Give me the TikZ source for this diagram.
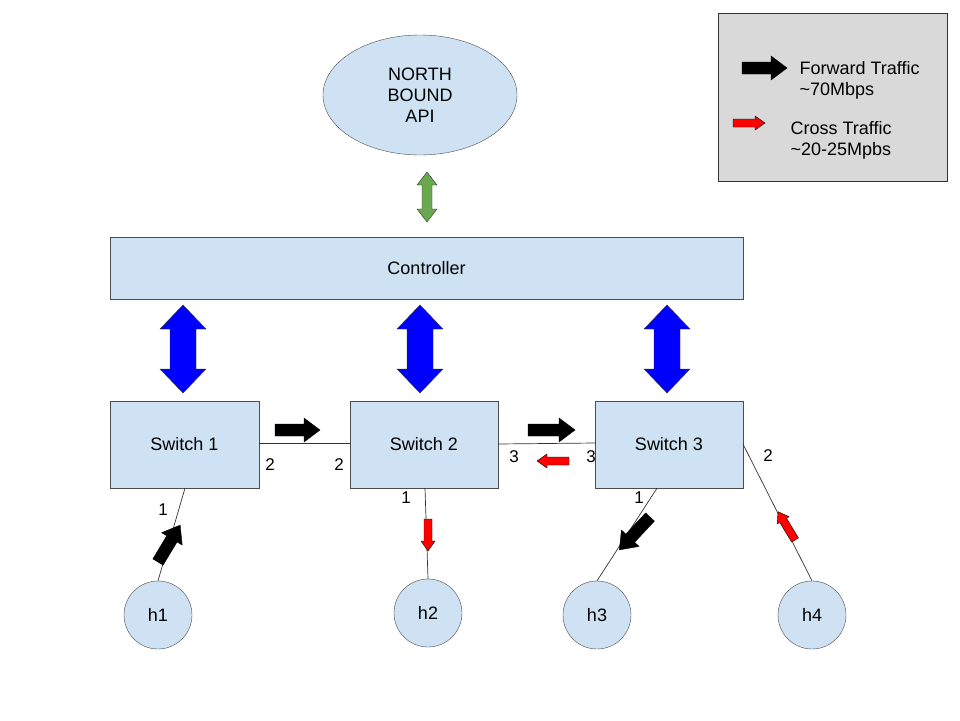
\documentclass[tikz,border=0pt]{standalone}
\usepackage{fontspec}
\setmainfont{Liberation Sans}
\usetikzlibrary{shapes.geometric}
\definecolor{boxblue}{HTML}{CFE2F3}
\definecolor{legendgray}{HTML}{D9D9D9}
\definecolor{apigreen}{HTML}{6AA84F}
\tikzset{
  box/.style={draw=black!70,fill=boxblue,inner sep=0pt},
  host/.style={circle,draw=black!70,fill=boxblue,minimum size=68pt,inner sep=0pt},
  link/.style={draw=black!80,line width=0.7pt},
  port/.style={font=\fontsize{17}{20}\selectfont},
  fwd/.style={draw=black,fill=black},
  cross/.style={draw=black,fill=red},
  pics/fat arrow/.style args={#1/#2/#3/#4}{code={
    \path[pic actions] (0,-#2) -- (#1-#4,-#2) -- (#1-#4,-#3) -- (#1,0)
      -- (#1-#4,#3) -- (#1-#4,#2) -- (0,#2) -- cycle;}},
  pics/fat double/.style args={#1/#2/#3/#4}{code={
    \path[pic actions] (0,0) -- (#4,-#3) -- (#4,-#2) -- (#1-#4,-#2) -- (#1-#4,-#3) -- (#1,0)
      -- (#1-#4,#3) -- (#1-#4,#2) -- (#4,#2) -- (#4,#3) -- cycle;}},
}
\begin{document}
\begin{tikzpicture}[x=1pt,y=-1pt,font=\fontsize{18}{21}\selectfont]
  \useasboundingbox (0,0) rectangle (960,720);
  % api and legend
  \node[ellipse,box,minimum width=194pt,minimum height=120pt,align=center] (api) at (420,95) {NORTH\\BOUND\\API};
  \draw[draw=black!80,fill=legendgray] (718,13) rectangle (947,181);
  \pic[fwd] at (742,68) {fat arrow=45/6/12/16};
  \node[anchor=west,align=left] (lfwdt) at (796,80) {Forward Traffic\\\textasciitilde70Mbps};
  \pic[cross] at (733,123) {fat arrow=32/4/7/10};
  \node[anchor=west,align=left] (lcrosst) at (787,140) {Cross Traffic\\\textasciitilde20-25Mpbs};
  % controller
  \node[box,minimum width=633pt,minimum height=62pt] (ctrl) at (426.5,268) {Controller};
  \pic[draw=black!80,fill=apigreen,rotate=-90] at (427,172) {fat double=50/5/10/13};
  % switches
  \node[box,minimum width=149pt,minimum height=87pt] (s1) at (184.5,444.5) {Switch 1};
  \node[box,minimum width=148pt,minimum height=87pt] (s2) at (424,444.5) {Switch 2};
  \node[box,minimum width=148pt,minimum height=87pt] (s3) at (669,444.5) {Switch 3};
  \foreach \x in {183,420,667}
    \pic[draw=black!80,fill=blue,rotate=-90] at (\x,305) {fat double=88/13/23/24};
  % hosts
  \node[host] (h1) at (158,615) {h1};
  \node[host] (h2) at (428,613) {h2};
  \node[host] (h3) at (597,615) {h3};
  \node[host] (h4) at (812,615) {h4};
  % links
  \coordinate (p1a) at (259,443); \coordinate (p2a) at (350,443);
  \coordinate (p2b) at (498,444); \coordinate (p3a) at (595,443);
  \draw[link] (p1a) -- (p2a);
  \draw[link] (p2b) -- (p3a);
  \draw[link] (s1.south -| 185,0) -- (h1.north);
  \draw[link] (s2.south -| 425,0) -- (h2.north);
  \draw[link] (s3.south -| 657,0) -- (h3.north);
  \draw[link] (s3.east) -- (h4.north);
  \node[port] (l12) at (270,465) {2};
  \node[port] (l21) at (339,465) {2};
  \node[port] (l23) at (514,457) {3};
  \node[port] (l32) at (591,457) {3};
  \node[port] (l1h) at (163,510) {1};
  \node[port] (l2h) at (406,498) {1};
  \node[port] (l3h) at (639,498) {1};
  \node[port] (l4h) at (768,456) {2};
  % traffic
  \pic[fwd] at (275,430) {fat arrow=45/6/12/16};
  \pic[fwd] at (528,430) {fat arrow=47/6/12/16};
  \pic[fwd,rotate=59] at (158,562) {fat arrow=43/6/12/16};
  \pic[fwd,rotate=-133] at (650,517) {fat arrow=45/6/12/16};
  \pic[cross,rotate=180] at (569,461) {fat arrow=32/4/7/10};
  \pic[cross,rotate=-90] at (428,519) {fat arrow=32/4/7/10};
  \pic[cross,rotate=121] at (795,540) {fat arrow=33/4/7/10};
\end{tikzpicture}
\end{document}
